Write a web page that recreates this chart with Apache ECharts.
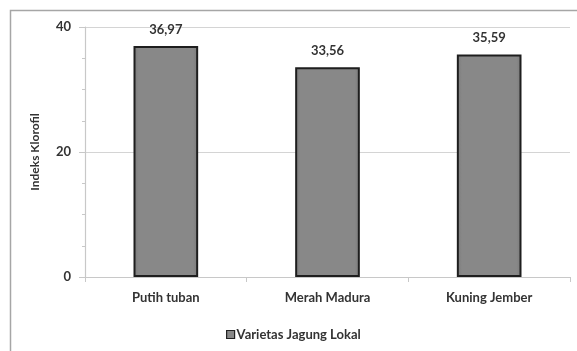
<!DOCTYPE html>
<html>
<head>
<meta charset="utf-8">
<script src="https://cdn.jsdelivr.net/npm/echarts@6/dist/echarts.min.js"></script>
<style>
  html, body { margin: 0; padding: 0; background: #fff; }
  #chart { width: 577px; height: 351px; }
</style>
</head>
<body>
<div id="chart"></div>
<script>
// data
const categories = ["Putih tuban", "Merah Madura", "Kuning Jember"];
const klorofil = [36.97, 33.56, 35.59];
const seriesName = "Varietas Jagung Lokal";
const yTicks = [0, 20, 40];

const FONT = "Lato";
const chart = echarts.init(document.getElementById("chart"));

chart.setOption({
  animation: false,
  backgroundColor: "#fff",
  textStyle: { fontFamily: FONT },
  graphic: [
    {
      // outer chart frame (cut off at right/bottom like the source)
      type: "rect",
      left: 8,
      top: 8,
      shape: { width: 620, height: 400 },
      style: { fill: "none", stroke: "#a6a6a6", lineWidth: 1.5 },
      silent: true,
    },
  ],
  grid: {
    left: 85,
    right: 7,
    top: 27,
    bottom: 74,
  },
  legend: {
    data: [seriesName],
    left: 221,
    top: 323,
    icon: "rect",
    itemWidth: 8,
    itemHeight: 8,
    itemGap: 2,
    itemStyle: { borderColor: "#222", borderWidth: 1.2 },
    textStyle: { fontFamily: FONT, fontWeight: "bold", fontSize: 13, color: "#333", padding: [0, 0, 0, -3] },
  },
  xAxis: {
    type: "category",
    data: categories,
    axisLine: { lineStyle: { color: "#c8c8c8", width: 1.2 } },
    axisTick: { show: true, length: 5, lineStyle: { color: "#c8c8c8" } },
    axisLabel: {
      margin: 14,
      fontSize: 13,
      fontWeight: "bold",
      color: "#333",
    },
  },
  yAxis: {
    type: "value",
    min: yTicks[0],
    max: yTicks[yTicks.length - 1],
    interval: 20,
    name: "Indeks Klorofil",
    nameLocation: "middle",
    nameGap: 44,
    nameTextStyle: { fontSize: 12, fontWeight: "bold", color: "#333" },
    axisLine: { show: true, lineStyle: { color: "#c8c8c8", width: 1.2 } },
    axisTick: { show: true, length: 6, lineStyle: { color: "#c8c8c8" } },
    minorTick: { show: true, splitNumber: 4, length: 3, lineStyle: { color: "#c8c8c8" } },
    axisLabel: { margin: 14, fontSize: 13, fontWeight: "bold", color: "#333" },
    splitLine: { lineStyle: { color: "#d4d4d4", width: 1.2 } },
  },
  series: [
    {
      name: seriesName,
      type: "bar",
      data: klorofil,
      barWidth: "40%",
      itemStyle: {
        color: new echarts.graphic.LinearGradient(0, 0, 1, 0, [
          { offset: 0, color: "#7a7a7a" },
          { offset: 0.08, color: "#888888" },
          { offset: 0.92, color: "#888888" },
          { offset: 1, color: "#7a7a7a" },
        ]),
        borderColor: "#1e1e1e",
        borderWidth: 2,
      },
      label: {
        show: true,
        position: "top",
        distance: 10,
        fontSize: 13,
        fontWeight: "bold",
        color: "#333",
        formatter: (p) => p.value.toFixed(2).replace(".", ","),
      },
    },
  ],
});
</script>
</body>
</html>
